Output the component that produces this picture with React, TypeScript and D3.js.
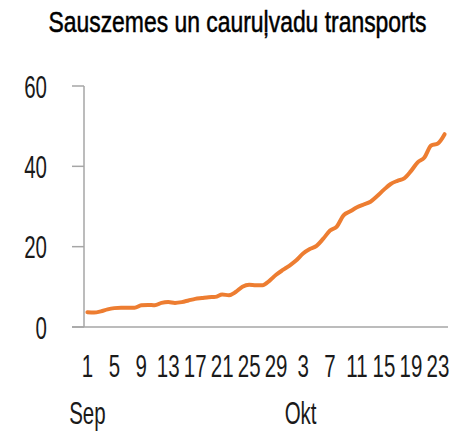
import React, { useLayoutEffect, useRef, useState } from "react";
import * as d3 from "d3";

const title = "Sauszemes un cauruļvadu transports";

// Days: 1 Sep .. 24 Okt
const days = [
  1, 2, 3, 4, 5, 6, 7, 8, 9, 10, 11, 12, 13, 14, 15, 16, 17, 18, 19, 20, 21, 22, 23, 24, 25, 26, 27, 28, 29, 30,
  1, 2, 3, 4, 5, 6, 7, 8, 9, 10, 11, 12, 13, 14, 15, 16, 17, 18, 19, 20, 21, 22, 23, 24,
];
const months = [
  { name: "Sep", startIndex: 0 },
  { name: "Okt", startIndex: 32 },
];
const values = [
  3.7, 3.6, 3.9, 4.4, 4.7, 4.8, 4.8, 4.8, 5.4, 5.5, 5.4, 6.0, 6.2, 6.0, 6.2, 6.6, 7.0, 7.2, 7.4, 7.5,
  8.1, 7.9, 8.7, 10.0, 10.5, 10.4, 10.4, 11.5, 13.0, 14.2, 15.3, 16.6, 18.3, 19.4, 20.2, 22.0, 24.0, 25.0,
  27.8, 28.8, 29.8, 30.5, 31.2, 32.6, 34.2, 35.6, 36.4, 37.0, 38.8, 41.0, 42.2, 45.2, 45.7, 48.0,
];
const yTicks = [0, 20, 40, 60];
const labelEvery = 4;

const W = 475;
const H = 436;
const FONT = "'Liberation Sans', Arial, sans-serif";
const TEXT = "#1a1a1a";
const AXIS = "#a6a6a6";
const LINE = "#ed7d31";

export default function App() {
  const titleRef = useRef<SVGTextElement>(null);
  const [titleScale, setTitleScale] = useState(0.8);
  useLayoutEffect(() => {
    if (titleRef.current) {
      const w = titleRef.current.getComputedTextLength();
      if (w > 0) setTitleScale(378 / w);
    }
  }, []);

  const idx = days.map((_, i) => i);
  const x = d3.scaleBand<number>().domain(idx).range([84, 448]).padding(0);
  const cx = (i: number) => (x(i) as number) + x.bandwidth() / 2;
  const y = d3.scaleLinear().domain([0, 60]).range([327, 86]);
  const line = d3
    .line<number>()
    .x((_, i) => cx(i))
    .y((d) => y(d))
    .curve(d3.curveMonotoneX);

  const sx = 0.64;
  const lab = (tx: number, ty: number, s: string, size: number, anchor: string, key: string) => (
    <text
      key={key}
      transform={`translate(${tx},${ty}) scale(${sx},1)`}
      fontSize={size}
      fontFamily={FONT}
      fill={TEXT}
      textAnchor={anchor}
    >
      {s}
    </text>
  );

  return (
    <svg width={W} height={H} style={{ position: "absolute", left: 0, top: 0, background: "#fff" }}>
      <text
        ref={titleRef}
        transform={`translate(237.5,32) scale(${titleScale},1)`}
        fontSize={29}
        fontFamily={FONT}
        fill="#000"
        stroke="#000"
        strokeWidth={0.5}
        textAnchor="middle"
      >
        {title}
      </text>

      {/* y axis */}
      <line x1={84} x2={84} y1={y(60)} y2={y(0)} stroke={AXIS} strokeWidth={1.5} />
      {yTicks.map((t) => (
        <line key={"yt" + t} x1={72} x2={84} y1={y(t)} y2={y(t)} stroke={AXIS} strokeWidth={1.5} />
      ))}
      {yTicks.map((t) => lab(47, y(t) + 11.5, String(t), 32, "end", "yl" + t))}

      {/* x axis */}
      <line x1={72} x2={448} y1={y(0)} y2={y(0)} stroke={AXIS} strokeWidth={1.5} />
      {days.map((d, i) => (i % labelEvery === 0 ? lab(cx(i), 377, String(d), 32, "middle", "xl" + i) : null))}
      {months.map((m) => lab(cx(m.startIndex) - (m.startIndex ? 2.5 : 0), 424, m.name, 32, "middle", "m" + m.name))}

      <path d={line(values) || ""} fill="none" stroke={LINE} strokeWidth={4} strokeLinejoin="round" strokeLinecap="round" />
    </svg>
  );
}
